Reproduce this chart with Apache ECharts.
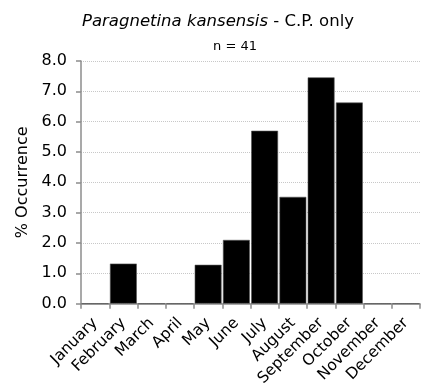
<!DOCTYPE html>
<html><head><meta charset="utf-8">
<script src="https://cdn.jsdelivr.net/npm/echarts@6/dist/echarts.min.js"></script>
<style>html,body{margin:0;padding:0;background:#fff}#c{width:422px;height:389px}</style>
</head><body><div id="c"></div>
<script>
var months = ['January','February','March','April','May','June','July','August','September','October','November','December'];
var occurrence = [0, 1.32, 0, 0, 1.28, 2.1, 5.7, 3.52, 7.46, 6.63, 0, 0];
var yTicks = [0, 1, 2, 3, 4, 5, 6, 7, 8];
var titleMain = 'Paragnetina kansensis';
var titleRest = ' - C.P. only';
var subtitle = 'n = 41';
var yName = '% Occurrence';

var chart = echarts.init(document.getElementById('c'), null, {renderer: 'canvas'});
var font = 'DejaVu Sans, Verdana, sans-serif';
chart.setOption({
  animation: false,
  backgroundColor: '#fff',
  title: [{
    text: '{i|' + titleMain + '}{n|' + titleRest + '}',
    left: 213, top: 8, textAlign: 'center',
    textStyle: {fontWeight: 'normal', rich: {
      i: {fontFamily: font, fontSize: 16.5, fontStyle: 'italic', fontWeight: 'normal', color: '#000'},
      n: {fontFamily: font, fontSize: 16.5, fontWeight: 'normal', color: '#000'}
    }}
  }, {
    text: subtitle, left: 230, top: 35, textAlign: 'center',
    textStyle: {fontFamily: font, fontSize: 13, fontWeight: 'normal', color: '#000'}
  }],
  grid: {left: 81, right: 2, top: 61, bottom: 84, containLabel: false},
  xAxis: {
    type: 'category', data: months,
    axisLine: {lineStyle: {color: '#8c8c8c', width: 1.5}},
    axisTick: {show: true, alignWithLabel: false, length: 5, lineStyle: {color: '#8c8c8c', width: 1.5}},
    axisLabel: {rotate: 45, interval: 0, fontFamily: font, fontSize: 15.5, color: '#000', margin: 17}
  },
  yAxis: {
    type: 'value', min: yTicks[0], max: yTicks[yTicks.length - 1], interval: 1,
    name: yName, nameLocation: 'middle', nameGap: 50,
    nameTextStyle: {fontFamily: font, fontSize: 16, color: '#000'},
    axisLine: {show: true, lineStyle: {color: '#8c8c8c', width: 1.5}},
    axisTick: {show: true, length: 5, lineStyle: {color: '#8c8c8c', width: 1.5}},
    axisLabel: {fontFamily: font, fontSize: 16, color: '#000', margin: 14,
      formatter: function (v) { return v.toFixed(1); }},
    splitLine: {show: true, lineStyle: {color: '#c8c8c8', type: [1, 1], width: 1}}
  },
  series: [{
    type: 'bar', data: occurrence, barCategoryGap: '5%',
    itemStyle: {color: '#000', borderColor: '#555', borderWidth: 0.6}
  }]
});
</script></body></html>
